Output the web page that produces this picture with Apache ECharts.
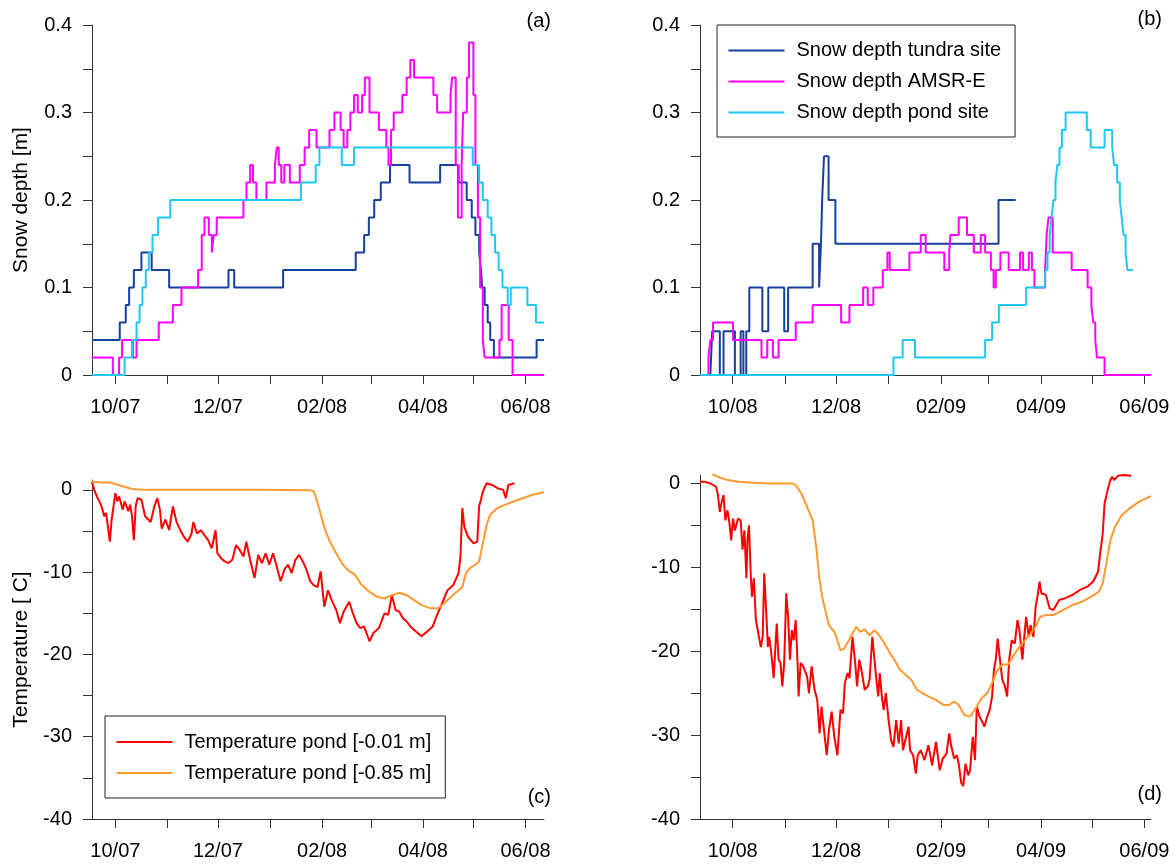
<!DOCTYPE html>
<html><head><meta charset="utf-8">
<script src="https://cdn.jsdelivr.net/npm/echarts@6/dist/echarts.min.js"></script>
<style>html,body{margin:0;padding:0;background:#fff}#c{width:1174px;height:865px}</style>
</head><body><div id="c"></div>
<script>
// ---------- axes / ticks ----------
const seasonStartA = '2007-10-01';
const seasonStartB = '2008-10-01';
const monthTicksA = ['2007-10-01','2007-11-01','2007-12-01','2008-01-01','2008-02-01','2008-03-01','2008-04-01','2008-05-01','2008-06-01'];
const monthTicksB = ['2008-10-01','2008-11-01','2008-12-01','2009-01-01','2009-02-01','2009-03-01','2009-04-01','2009-05-01','2009-06-01'];
const labelDatesA = ['2007-10-01','2007-12-01','2008-02-01','2008-04-01','2008-06-01'];
const labelDatesB = ['2008-10-01','2008-12-01','2009-02-01','2009-04-01','2009-06-01'];
const tickLabelsA = ['10/07','12/07','02/08','04/08','06/08'];
const tickLabelsB = ['10/08','12/08','02/09','04/09','06/09'];
const snowTicks = [0,0.05,0.1,0.15,0.2,0.25,0.3,0.35,0.4];
const snowLabels = [0,0.1,0.2,0.3,0.4];
const tempTicks = [-40,-35,-30,-25,-20,-15,-10,-5,0];
const tempLabels = [-40,-30,-20,-10,0];
// x range in days from 1 October of each season
const xRangeA = [-13.9, 255];
const xRangeB = [-19.3, 246.9];

// ---------- data: [days since 1 Oct, value] ----------
// Season 2007/08 snow depth [m]
const tundraA = [[-13.9,0.04],[2.6,0.06],[6.2,0.08],[8.2,0.10],[11,0.12],[15.5,0.14],[21.6,0.12],[32,0.10],[67.3,0.12],[70.7,0.10],[99.8,0.12],[143,0.14],[148,0.16],[150.8,0.18],[154,0.20],[157.9,0.22],[163.4,0.24],[175,0.22],[193.2,0.24],[204.2,0.22],[209,0.20],[212,0.18],[214.2,0.16],[216.4,0.14],[217.5,0.12],[218.2,0.10],[219.7,0.08],[221.5,0.06],[223,0.04],[225.2,0.02],[250.6,0.04],[255,0.04]];
const amsrA = [[-13.9,0.02],[-1.5,0],[2.2,0.02],[4,0.04],[10.4,0.02],[12.6,0.04],[25.8,0.06],[34.2,0.08],[39.3,0.10],[49.2,0.12],[51.4,0.16],[53,0.18],[55.6,0.16],[57.4,0.14],[58.5,0.16],[60.3,0.18],[76.2,0.20],[78,0.22],[80.2,0.24],[81.9,0.22],[83.9,0.20],[89.9,0.22],[94.9,0.24],[96,0.26],[97.2,0.24],[98.7,0.22],[100.5,0.24],[103.8,0.22],[109.7,0.24],[112.6,0.26],[115.3,0.28],[119.7,0.26],[127.4,0.28],[130.3,0.30],[134,0.28],[135.8,0.26],[138,0.28],[139.8,0.30],[142,0.32],[144.2,0.30],[146.8,0.32],[148.4,0.34],[151.2,0.30],[156.8,0.28],[161.2,0.26],[162.5,0.24],[164,0.28],[165.6,0.30],[170.7,0.32],[173.3,0.34],[175.5,0.36],[177.7,0.34],[189.2,0.32],[191.4,0.30],[199.4,0.32],[200.3,0.34],[202.5,0.24],[203.8,0.18],[206,0.24],[206.9,0.30],[209.1,0.34],[210.4,0.38],[213,0.32],[214.2,0.24],[215.7,0.18],[217,0.10],[218.6,0.04],[219.7,0.02],[228.5,0.04],[229.8,0.08],[234,0.04],[236.3,0],[255,0]];
const pondA = [[-13.9,0],[5.5,0.02],[9.9,0.04],[12.6,0.06],[14.4,0.08],[16.1,0.10],[18.1,0.12],[19.9,0.14],[22.1,0.16],[25.4,0.18],[32.7,0.20],[110.4,0.22],[119.2,0.24],[121.4,0.26],[134.7,0.24],[142,0.26],[212.6,0.24],[216.4,0.22],[218.6,0.20],[221.5,0.18],[223.7,0.16],[225.9,0.14],[228,0.12],[230.3,0.10],[233.4,0.08],[235.2,0.10],[245.1,0.08],[250.2,0.06],[255,0.06]];
// Season 2008/09 snow depth [m]
const tundraB = [[-13.2,0],[-12.1,0.05],[-7.6,0],[-5.4,0.05],[1.3,0],[4.7,0.05],[6.3,0],[8,0.05],[9.8,0.10],[17.5,0.05],[21,0.10],[30.4,0.05],[32.7,0.10],[47.2,0.15],[51,0.10],[52.1,0.15],[52.8,0.20],[53.9,0.25],[56.6,0.20],[60.6,0.15],[156.9,0.20],[167,0.20]];
const amsrB = [[-19.3,0],[-14.3,0.02],[-13.2,0.04],[-11.6,0.06],[0.2,0.04],[17,0.02],[20.4,0.04],[23.7,0.02],[27.1,0.04],[37.2,0.06],[47.2,0.08],[64,0.06],[68.9,0.08],[77,0.10],[79.7,0.08],[83,0.10],[88.6,0.12],[91.3,0.14],[92.7,0.12],[104.3,0.14],[111,0.16],[113.9,0.14],[124.9,0.12],[127.8,0.14],[128.5,0.16],[133.4,0.18],[138.3,0.16],[142.3,0.14],[146.4,0.16],[149,0.14],[152.4,0.12],[154,0.10],[155.3,0.12],[158,0.14],[162.9,0.12],[169.6,0.14],[171.4,0.12],[174.8,0.14],[176.6,0.12],[178.1,0.10],[184.4,0.12],[185.3,0.16],[186.4,0.18],[188.9,0.14],[200.1,0.12],[209.5,0.10],[211.7,0.08],[212.8,0.06],[214,0.04],[215,0.02],[219.5,0],[246.9,0]];
const pondB = [[-19.3,0],[94.9,0.02],[100.3,0.04],[107.6,0.02],[149,0.04],[153.1,0.06],[157.1,0.08],[173.2,0.10],[184.4,0.12],[185.8,0.14],[187.1,0.16],[188.2,0.18],[189.3,0.20],[190.5,0.22],[191.6,0.24],[192.9,0.26],[194.3,0.28],[196.5,0.30],[209,0.28],[211.3,0.26],[219.5,0.28],[224,0.26],[225.1,0.24],[226.9,0.22],[228.5,0.20],[229.6,0.18],[230.7,0.16],[231.9,0.14],[233,0.12],[236.3,0.12]];
// Season 2007/08 temperature [C]
const tSurfA = [[-13.9,1.0],[-12.6,0],[-11,-0.8],[-9.5,-1.4],[-8.2,-2],[-6.6,-3.2],[-5.5,-2.8],[-4.4,-4.5],[-3.3,-6.3],[-2.2,-3.6],[-1.1,-2],[0,-0.4],[1.1,-1.4],[2.2,-0.8],[4.4,-2.4],[5.5,-1.4],[7.7,-2.6],[8.8,-1.8],[9.9,-3.2],[11,-6.1],[12.1,-2],[13.2,-1],[15.5,-1.2],[17.7,-3.2],[21,-3.9],[23.2,-2],[25,-1],[26.5,-2.4],[27.6,-4.7],[29.8,-3.6],[32,-4.9],[34.2,-2],[36.4,-3.9],[38.6,-4.9],[40.8,-5.7],[43.1,-6.3],[45.3,-5.3],[46.4,-3.9],[48.6,-5.3],[50.8,-4.9],[53,-5.5],[55.2,-6.1],[57.4,-7.1],[59.6,-4.9],[60.7,-7.7],[62.9,-8.3],[65.1,-8.7],[67.3,-8.9],[69.6,-8.5],[71.8,-6.7],[74,-7.3],[76.2,-8.1],[77.9,-6.3],[80.6,-8.9],[82.8,-10.7],[85,-7.9],[87.2,-8.9],[89.4,-7.7],[91.6,-9.1],[93.8,-7.7],[96,-9.3],[98.3,-11.1],[100.5,-9.7],[102.7,-9.1],[104.9,-10.1],[107.1,-8.5],[109.3,-7.9],[111.5,-8.7],[113.7,-9.7],[115.9,-11.1],[118.1,-11.6],[120.3,-11.8],[122.1,-9.9],[124.3,-14.2],[126.5,-12.2],[128.7,-13.4],[131.4,-14.6],[133.6,-16.2],[135.8,-14.8],[139.1,-13.6],[141.3,-15],[143.5,-16.2],[145.7,-16.8],[147.9,-16.6],[151.2,-18.4],[153.5,-17.4],[156.8,-16.8],[160.1,-15],[162.3,-15.2],[164.5,-12.8],[166.7,-14.6],[168.9,-14.8],[171.1,-15.6],[173.3,-16],[175.5,-16.6],[178.8,-17.2],[182.2,-17.8],[185.5,-17.2],[188.8,-16.6],[191,-15.4],[194.3,-13.8],[197.6,-12.2],[200.9,-11.6],[204.2,-10.1],[205.3,-8.1],[206.4,-2.2],[207.6,-4.5],[209.8,-5.7],[213.1,-6.5],[215.3,-6.3],[216.4,-2],[217.5,-1.2],[218.6,-0.2],[220.8,0.8],[224.1,0.6],[227.4,0.2],[230.7,0],[232.3,-1.0],[233.8,0.6],[237.4,0.8]];
const tDeepA = [[-13.9,1.0],[-7.7,0.9],[-3.3,0.9],[3.3,0.5],[9.9,0.1],[18.8,0],[40.8,0],[85,0],[115.9,-0.05],[118.1,-0.2],[120.3,-1.6],[122.5,-3.2],[124.8,-4.9],[128.1,-6.5],[131.4,-7.7],[134.7,-8.9],[138,-9.7],[142.4,-10.3],[146.8,-11.6],[151.2,-12.4],[155.7,-13],[160.1,-13.2],[164.5,-12.8],[168.9,-12.5],[173.3,-12.8],[177.7,-13.4],[182.2,-14],[187.7,-14.4],[192.1,-14.4],[196.5,-13.6],[202,-12.6],[206.4,-11.8],[208.6,-10.1],[210.9,-9.5],[214.2,-9.1],[216.4,-8.7],[218.6,-6.5],[220.8,-4.3],[223,-3.0],[227.4,-2.2],[232,-1.8],[239.6,-1.2],[248.4,-0.6],[255,-0.3]];
// Season 2008/09 temperature [C]
const tSurfB = [[-19.3,0.2],[-16.6,0.2],[-13.2,0],[-9.8,-0.4],[-8.7,-1.4],[-7.6,-3.4],[-6.5,-2.2],[-5.4,-1.4],[-4.3,-4.4],[-3.1,-3.2],[-2,-4.6],[-0.9,-6.8],[0.2,-4.2],[1.3,-5.6],[3.1,-4.2],[4.7,-4.4],[5.8,-7.9],[6.9,-5.6],[8.1,-11.3],[8.7,-6.8],[9.6,-5],[10.7,-11.1],[11.4,-13.5],[12.5,-11.3],[13.7,-16.3],[14.8,-17.5],[16.6,-19.5],[17.7,-18.3],[18.6,-10.7],[19.7,-15.1],[20.8,-19.5],[21.5,-18.3],[22.6,-19.9],[24.2,-23.2],[25.3,-19.1],[26,-16.7],[27.1,-21],[28.2,-21.4],[29.3,-24.2],[30.4,-21.4],[31.6,-13.1],[32.7,-15.9],[33.8,-21],[34.9,-17.5],[36,-18.7],[37.2,-16.3],[38.3,-21.4],[38.9,-25.4],[40.1,-21.4],[41.6,-21.8],[43.9,-23],[45,-25],[46.6,-21.8],[48.3,-24.6],[49.9,-25.8],[51.3,-29.8],[52.4,-26.6],[53.9,-29.4],[55.5,-32.4],[56.8,-29.4],[58.4,-27.2],[60,-30.2],[61.8,-32.4],[63.6,-27],[65.1,-27.4],[66.2,-23.8],[67.8,-22.6],[68.9,-23.2],[70.7,-18.3],[72.3,-21.4],[73.4,-24.2],[74.7,-21],[76.3,-22.6],[77.9,-24.6],[79.7,-24.2],[80.8,-23.4],[82.4,-18.3],[83.7,-21],[84.6,-23],[85.9,-25.4],[86.8,-22.6],[88,-25.4],[89.1,-27],[90.4,-25],[92,-28.2],[93.5,-30.6],[94.9,-31.4],[96.5,-28.2],[98,-31],[99.4,-28.2],[100.5,-31.8],[102.1,-30.4],[103.8,-29],[104.7,-31.8],[106.5,-32.4],[108.1,-34.6],[109.2,-32.4],[111,-31.8],[113.2,-33],[115.5,-31.2],[117.7,-33.6],[120,-30.8],[122.2,-34.2],[124,-32.8],[126.2,-32.2],[127.8,-29.8],[128.9,-31.2],[130.7,-32.8],[132.3,-32.4],[133.4,-33.4],[134.9,-35.7],[136.1,-36.1],[137.4,-33.4],[139,-34.8],[140.1,-34.2],[141.7,-30.2],[143,-33],[144.1,-26.6],[145.7,-27.8],[147.3,-28.4],[148.6,-29],[150.2,-27.8],[151.7,-27],[153.1,-25.4],[154.2,-22.2],[155.3,-21],[156.4,-18.5],[157.6,-20.7],[159.1,-23.4],[160.7,-24.2],[162,-25.4],[163.2,-21],[164.7,-18.7],[166.5,-19.1],[168.1,-16.3],[169.2,-17.5],[171,-21],[171.9,-18.7],[173.2,-15.9],[174.8,-18.3],[175.9,-16.9],[177.5,-18.3],[178.8,-14.7],[179.9,-13.5],[181.1,-11.7],[182.2,-13.1],[184.9,-13.3],[187.1,-14.9],[189.3,-15.1],[192.7,-13.9],[196,-13.7],[200.5,-13.3],[205,-12.7],[209.5,-12.3],[212.8,-11.7],[215.7,-10.5],[216.9,-8.3],[218.4,-6],[219.5,-2.4],[221.3,-0.8],[222.9,0.4],[224,0.8],[225.1,0.4],[227.4,0.9],[230.7,1.0],[235.2,0.9]];
const tDeepB = [[-12.1,1.07],[-7.6,0.7],[-3.1,0.4],[3.6,0.2],[10.3,0.1],[21.5,0],[34.9,0],[37.2,-0.2],[40.5,-1.2],[43.9,-2.8],[47.2,-4.4],[49.5,-7.9],[51,-11.1],[52.8,-13.5],[55.1,-15.5],[56.8,-16.9],[60,-17.7],[61.8,-18.7],[63.6,-19.9],[65.8,-19.7],[68.5,-18.7],[70.7,-17.9],[73,-17.1],[75.2,-17.7],[77.9,-17.4],[80.8,-18.1],[83.7,-17.5],[86.4,-18.1],[89.7,-19.1],[93.1,-20.3],[96.5,-21.4],[98.7,-22.2],[102.1,-22.8],[105.4,-23.4],[108.8,-24.6],[112.1,-25],[115.5,-25.4],[120,-25.8],[124.4,-26.4],[127.8,-26.4],[130.7,-26],[133.4,-26.4],[136.7,-27.6],[140.1,-27.8],[143.5,-26.8],[146.8,-25.6],[150.2,-25],[153.1,-23.8],[155.8,-22.4],[159.1,-21.6],[162.5,-21.6],[165.8,-20.5],[169.2,-19.5],[172.5,-18.7],[175.9,-17.9],[178.1,-17.3],[181.5,-15.9],[184.9,-15.7],[189.3,-15.7],[194.9,-15.1],[200.5,-14.5],[206.1,-14.1],[211.7,-13.5],[216.2,-12.9],[218.4,-11.9],[220.6,-9.5],[222.9,-6.8],[225.6,-5.2],[229.6,-3.8],[234.1,-3],[239.7,-2.2],[246.9,-1.5]];

const names = {tundra:'Snow depth tundra site', amsr:'Snow depth AMSR-E', pond:'Snow depth pond site', tSurf:'Temperature pond [-0.01 m]', tDeep:'Temperature pond [-0.85 m]'};
const colors = {tundra:'#17409a', amsr:'#ff00ff', pond:'#1ec8f2', tSurf:'#ff0000', tDeep:'#ff9a33'};

// ---------- build ----------
const FONT = 'Liberation Sans, Arial, sans-serif';
const dayOf = (d, base) => (Date.parse(d) - Date.parse(base)) / 864e5;

function xAx(gi, base, months, labelDates, labels, range) {
  const tv = months.map(d => dayOf(d, base));
  const lv = labelDates.map(d => dayOf(d, base));
  return {
    type: 'value', gridIndex: gi, min: range[0], max: range[1],
    axisLine: {show: true, onZero: false, lineStyle: {color: '#333', width: 1}},
    axisTick: {show: true, inside: false, length: 9, customValues: tv, lineStyle: {color: '#333', width: 1}},
    axisLabel: {customValues: lv, margin: 22, fontSize: 20, color: '#000', fontFamily: FONT,
      formatter: v => { const i = lv.findIndex(x => Math.abs(x - v) < 0.01); return i >= 0 ? labels[i] : ''; }},
    splitLine: {show: false}
  };
}
function yAx(gi, min, max, ticks, labels, name, fmt) {
  return {
    type: 'value', gridIndex: gi, min: min, max: max,
    name: name || '', nameLocation: 'middle', nameGap: 60, nameRotate: 90,
    nameTextStyle: {fontSize: 21, color: '#000', fontFamily: FONT},
    axisLine: {show: true, onZero: false, lineStyle: {color: '#333', width: 1}},
    axisTick: {show: true, inside: false, length: 9, customValues: ticks, lineStyle: {color: '#333', width: 1}},
    axisLabel: {customValues: labels, margin: 20, fontSize: 20, color: '#000', fontFamily: FONT, formatter: fmt},
    splitLine: {show: false}
  };
}
const snowFmt = v => String(Math.round(v * 10) / 10);
const tempFmt = v => String(Math.round(v));

function ser(key, data, gi, step) {
  return {
    name: names[key], type: 'line', xAxisIndex: gi, yAxisIndex: gi, data: data,
    step: step ? 'end' : false, symbol: 'none', showSymbol: false, smooth: false,
    lineStyle: {color: colors[key], width: 2}, itemStyle: {color: colors[key]},
    emphasis: {disabled: true}, animation: false, z: 2
  };
}
function legend(list, left, top, pad) {
  return {
    data: list, orient: 'vertical', left: left, top: top, padding: pad,
    icon: 'path://M0 0H56V2H0Z',
    itemWidth: 56, itemHeight: 2, itemGap: 11,
    borderColor: '#222', borderWidth: 1, borderRadius: 0, backgroundColor: '#fff',
    selectedMode: false,
    textStyle: {fontSize: 20, color: '#000', fontFamily: FONT, lineHeight: 20, padding: [0, 0, 0, 7]}
  };
}
function panelLabel(t, x, y) {
  return {type: 'text', x: x, y: y, style: {text: t, fontSize: 20, fill: '#000', font: '20px ' + FONT, align: 'right', verticalAlign: 'middle'}};
}

const option = {
  backgroundColor: '#fff',
  animation: false,
  grid: [
    {left: 92, top: 25, width: 452, height: 350},
    {left: 700, top: 25, width: 451, height: 350},
    {left: 92, top: 480, width: 452, height: 339},
    {left: 700, top: 475, width: 451, height: 344}
  ],
  xAxis: [
    xAx(0, seasonStartA, monthTicksA, labelDatesA, tickLabelsA, xRangeA),
    xAx(1, seasonStartB, monthTicksB, labelDatesB, tickLabelsB, xRangeB),
    xAx(2, seasonStartA, monthTicksA, labelDatesA, tickLabelsA, xRangeA),
    xAx(3, seasonStartB, monthTicksB, labelDatesB, tickLabelsB, xRangeB)
  ],
  yAxis: [
    yAx(0, 0, 0.4, snowTicks, snowLabels, 'Snow depth [m]', snowFmt),
    yAx(1, 0, 0.4, snowTicks, snowLabels, '', snowFmt),
    yAx(2, -40, 1.2, tempTicks, tempLabels, 'Temperature [ C]', tempFmt),
    yAx(3, -40, 1.0, tempTicks, tempLabels, '', tempFmt)
  ],
  legend: [
    legend([names.tundra, names.amsr, names.pond], 717, 25, [15.5, 14, 14.5, 11.5]),
    legend([names.tSurf, names.tDeep], 105, 716, [16, 14, 15, 11.5])
  ],
  graphic: [
    panelLabel('(a)', 551, 21), panelLabel('(b)', 1162, 19),
    panelLabel('(c)', 551, 797), panelLabel('(d)', 1162, 794)
  ],
  series: [
    ser('tundra', tundraA, 0, true), ser('amsr', amsrA, 0, true), ser('pond', pondA, 0, true),
    ser('tundra', tundraB, 1, true), ser('amsr', amsrB, 1, true), ser('pond', pondB, 1, true),
    ser('tSurf', tSurfA, 2, false), ser('tDeep', tDeepA, 2, false),
    ser('tSurf', tSurfB, 3, false), ser('tDeep', tDeepB, 3, false)
  ]
};
const chart = echarts.init(document.getElementById('c'), null, {renderer: 'canvas'});
chart.setOption(option);
</script></body></html>
